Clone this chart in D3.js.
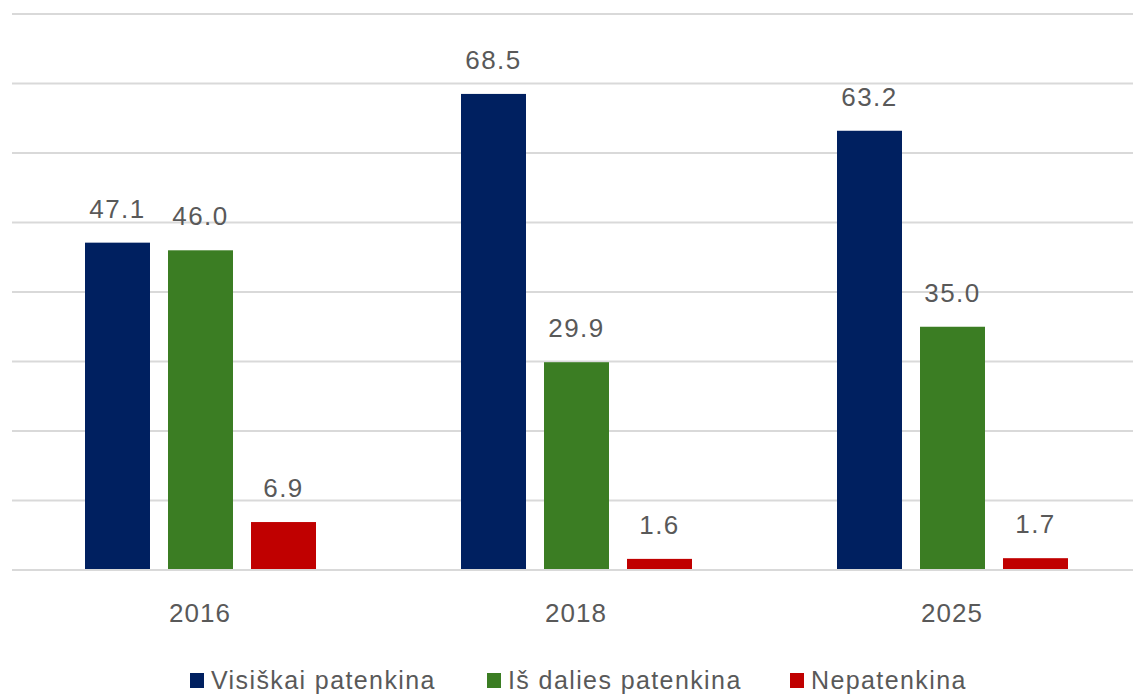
<!DOCTYPE html>
<html>
<head>
<meta charset="utf-8">
<script src="https://cdn.jsdelivr.net/npm/d3@7"></script>
<style>
  html, body { margin: 0; padding: 0; background: #fff; overflow: hidden; }
</style>
</head>
<body>
<div id="chart"></div>
<script>
// Data
const years = ["2016", "2018", "2025"];
const seriesNames = ["Visiškai patenkina", "Iš dalies patenkina", "Nepatenkina"];
const visiskai = [47.1, 68.5, 63.2];
const isDalies = [46.0, 29.9, 35.0];
const nepatenkina = [6.9, 1.6, 1.7];
const yTicks = [0, 10, 20, 30, 40, 50, 60, 70, 80];
const colors = ["#002060", "#3b7d23", "#c00000"];

const allSeries = [visiskai, isDalies, nepatenkina];
const rows = years.map((yr, i) => ({
  year: yr,
  values: seriesNames.map((s, j) => ({ key: s, value: allSeries[j][i] }))
}));

const width = 1133;
const height = 696;

const svg = d3.select("#chart")
  .append("svg")
  .attr("width", width)
  .attr("height", height)
  .style("font-family", "'Liberation Sans', Arial, sans-serif");

// Scales
const x0 = d3.scaleBand()
  .domain(years)
  .range([12, 1140]);

const x1 = d3.scaleBand()
  .domain(seriesNames)
  .range([73, 304])
  .paddingInner(0.217)
  .paddingOuter(0);

const y = d3.scaleLinear()
  .domain([0, 80])
  .range([570, 14]);

const color = d3.scaleOrdinal()
  .domain(seriesNames)
  .range(colors);

// Gridlines
svg.append("g")
  .selectAll("line")
  .data(yTicks)
  .enter()
  .append("line")
  .attr("x1", 12)
  .attr("x2", width)
  .attr("y1", d => y(d))
  .attr("y2", d => y(d))
  .attr("stroke", "#d9d9d9")
  .attr("stroke-width", 2);

// Bars
const groups = svg.selectAll(".group")
  .data(rows)
  .enter()
  .append("g")
  .attr("class", "group")
  .attr("transform", d => `translate(${x0(d.year)},0)`);

groups.selectAll("rect")
  .data(d => d.values)
  .enter()
  .append("rect")
  .attr("x", d => x1(d.key))
  .attr("y", d => y(d.value))
  .attr("width", x1.bandwidth())
  .attr("height", d => y(0) - y(d.value) - 1)
  .attr("fill", d => color(d.key));

// Value labels
groups.selectAll(".val")
  .data(d => d.values)
  .enter()
  .append("text")
  .attr("class", "val")
  .attr("x", d => x1(d.key) + x1.bandwidth() / 2)
  .attr("y", d => y(d.value) - 25)
  .attr("text-anchor", "middle")
  .attr("fill", "#595959")
  .style("font-size", "26px")
  .style("letter-spacing", "1.5px")
  .text(d => d.value.toFixed(1));

// Category axis labels
svg.append("g")
  .selectAll("text")
  .data(years)
  .enter()
  .append("text")
  .attr("x", d => x0(d) + x0.bandwidth() / 2)
  .attr("y", 622)
  .attr("text-anchor", "middle")
  .attr("fill", "#595959")
  .style("font-size", "26px")
  .style("letter-spacing", "1px")
  .text(d => d);

// Legend
const legendX = [190, 487, 790];
const legend = svg.append("g")
  .selectAll("g")
  .data(seriesNames)
  .enter()
  .append("g")
  .attr("transform", (d, i) => `translate(${legendX[i]},0)`);

legend.append("rect")
  .attr("x", 0)
  .attr("y", 673)
  .attr("width", 14)
  .attr("height", 15)
  .attr("fill", d => color(d));

legend.append("text")
  .attr("x", 21)
  .attr("y", 689)
  .attr("fill", "#595959")
  .style("font-size", "25px")
  .style("letter-spacing", "1.4px")
  .text(d => d);
</script>
</body>
</html>
